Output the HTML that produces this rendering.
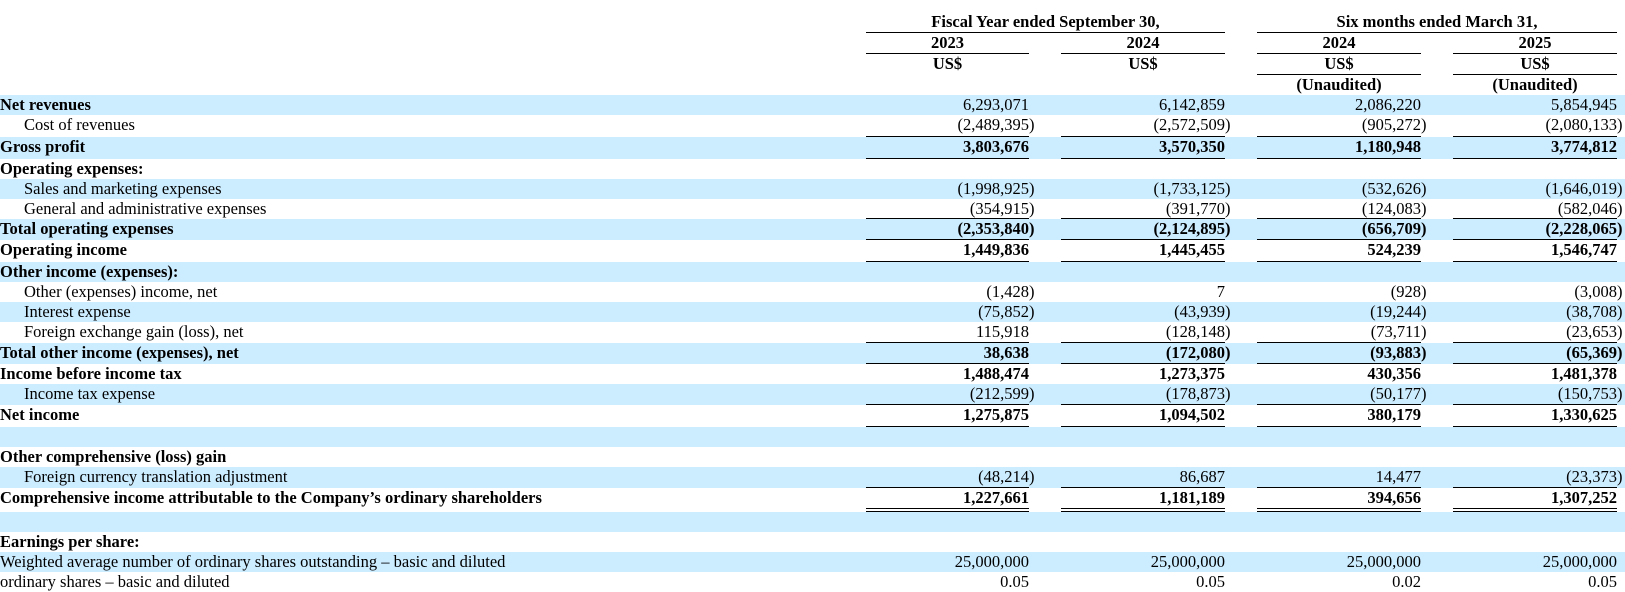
<!DOCTYPE html>
<html><head><meta charset="utf-8"><style>
body{margin:0;width:1625px;height:591px;overflow:hidden;background:#fff;font-family:"Liberation Serif","Times New Roman",serif;font-size:16.5px;color:#000;position:relative}
.r{position:absolute;left:0;width:1625px}
.b{background:#ccecff}
.l{position:absolute;left:0;top:0;line-height:20px;white-space:nowrap}
.i{left:24px}
.bd{font-weight:bold}
.n{position:absolute;top:0;line-height:20px;white-space:nowrap}
.c1{right:596px}.c2{right:400px}.c3{right:204px}.c4{right:8px}
.p{transform:translateX(5.5px)}
.u{position:absolute;bottom:0;height:1px;background:#000}
.u1{left:866px;width:163px}.u2{left:1061px;width:164px}.u3{left:1257px;width:164px}.u4{left:1453px;width:164px}
.d{position:absolute;height:1px;background:#000}
.h{position:absolute;font-weight:bold;text-align:center;line-height:20px;white-space:nowrap}
</style></head><body>
<div class="h" style="left:866px;width:359px;top:12px">Fiscal Year ended September 30,</div>
<div class="h" style="left:1257px;width:360px;top:12px">Six months ended March 31,</div>
<div class="d" style="left:866px;width:359px;top:32px"></div>
<div class="d" style="left:1257px;width:360px;top:32px"></div>
<div class="h" style="left:866px;width:163px;top:33px">2023</div>
<div class="h" style="left:1061px;width:164px;top:33px">2024</div>
<div class="h" style="left:1257px;width:164px;top:33px">2024</div>
<div class="h" style="left:1453px;width:164px;top:33px">2025</div>
<div class="d" style="left:866px;width:163px;top:53px"></div>
<div class="d" style="left:1061px;width:164px;top:53px"></div>
<div class="d" style="left:1257px;width:164px;top:53px"></div>
<div class="d" style="left:1453px;width:164px;top:53px"></div>
<div class="h" style="left:866px;width:163px;top:54px">US$</div>
<div class="h" style="left:1061px;width:164px;top:54px">US$</div>
<div class="h" style="left:1257px;width:164px;top:54px">US$</div>
<div class="h" style="left:1453px;width:164px;top:54px">US$</div>
<div class="d" style="left:1257px;width:164px;top:74px"></div>
<div class="d" style="left:1453px;width:164px;top:74px"></div>
<div class="h" style="left:1257px;width:164px;top:75px">(Unaudited)</div>
<div class="h" style="left:1453px;width:164px;top:75px">(Unaudited)</div>

<div class="r b bd" style="top:95px;height:20px"><span class="l">Net revenues</span><span class="n c1" style="font-weight:normal">6,293,071</span><span class="n c2" style="font-weight:normal">6,142,859</span><span class="n c3" style="font-weight:normal">2,086,220</span><span class="n c4" style="font-weight:normal">5,854,945</span></div>
<div class="r" style="top:115px;height:22px"><span class="l i">Cost of revenues</span><span class="n c1 p">(2,489,395)</span><span class="n c2 p">(2,572,509)</span><span class="n c3 p">(905,272)</span><span class="n c4 p">(2,080,133)</span><div class="u u1"></div><div class="u u2"></div><div class="u u3"></div><div class="u u4"></div></div>
<div class="r b bd" style="top:137px;height:22px"><span class="l">Gross profit</span><span class="n c1">3,803,676</span><span class="n c2">3,570,350</span><span class="n c3">1,180,948</span><span class="n c4">3,774,812</span><div class="u u1"></div><div class="u u2"></div><div class="u u3"></div><div class="u u4"></div></div>
<div class="r bd" style="top:159px;height:20px"><span class="l">Operating expenses:</span></div>
<div class="r b" style="top:179px;height:20px"><span class="l i">Sales and marketing expenses</span><span class="n c1 p">(1,998,925)</span><span class="n c2 p">(1,733,125)</span><span class="n c3 p">(532,626)</span><span class="n c4 p">(1,646,019)</span></div>
<div class="r" style="top:199px;height:20px"><span class="l i">General and administrative expenses</span><span class="n c1 p">(354,915)</span><span class="n c2 p">(391,770)</span><span class="n c3 p">(124,083)</span><span class="n c4 p">(582,046)</span><div class="u u1"></div><div class="u u2"></div><div class="u u3"></div><div class="u u4"></div></div>
<div class="r b bd" style="top:219px;height:21px"><span class="l">Total operating expenses</span><span class="n c1 p">(2,353,840)</span><span class="n c2 p">(2,124,895)</span><span class="n c3 p">(656,709)</span><span class="n c4 p">(2,228,065)</span><div class="u u1"></div><div class="u u2"></div><div class="u u3"></div><div class="u u4"></div></div>
<div class="r bd" style="top:240px;height:22px"><span class="l">Operating income</span><span class="n c1">1,449,836</span><span class="n c2">1,445,455</span><span class="n c3">524,239</span><span class="n c4">1,546,747</span><div class="u u1"></div><div class="u u2"></div><div class="u u3"></div><div class="u u4"></div></div>
<div class="r b bd" style="top:262px;height:20px"><span class="l">Other income (expenses):</span></div>
<div class="r" style="top:282px;height:20px"><span class="l i">Other (expenses) income, net</span><span class="n c1 p">(1,428)</span><span class="n c2">7</span><span class="n c3 p">(928)</span><span class="n c4 p">(3,008)</span></div>
<div class="r b" style="top:302px;height:20px"><span class="l i">Interest expense</span><span class="n c1 p">(75,852)</span><span class="n c2 p">(43,939)</span><span class="n c3 p">(19,244)</span><span class="n c4 p">(38,708)</span></div>
<div class="r" style="top:322px;height:21px"><span class="l i">Foreign exchange gain (loss), net</span><span class="n c1">115,918</span><span class="n c2 p">(128,148)</span><span class="n c3 p">(73,711)</span><span class="n c4 p">(23,653)</span><div class="u u1"></div><div class="u u2"></div><div class="u u3"></div><div class="u u4"></div></div>
<div class="r b bd" style="top:343px;height:21px"><span class="l">Total other income (expenses), net</span><span class="n c1">38,638</span><span class="n c2 p">(172,080)</span><span class="n c3 p">(93,883)</span><span class="n c4 p">(65,369)</span><div class="u u1"></div><div class="u u2"></div><div class="u u3"></div><div class="u u4"></div></div>
<div class="r bd" style="top:364px;height:20px"><span class="l">Income before income tax</span><span class="n c1">1,488,474</span><span class="n c2">1,273,375</span><span class="n c3">430,356</span><span class="n c4">1,481,378</span></div>
<div class="r b" style="top:384px;height:21px"><span class="l i">Income tax expense</span><span class="n c1 p">(212,599)</span><span class="n c2 p">(178,873)</span><span class="n c3 p">(50,177)</span><span class="n c4 p">(150,753)</span><div class="u u1"></div><div class="u u2"></div><div class="u u3"></div><div class="u u4"></div></div>
<div class="r bd" style="top:405px;height:22px"><span class="l">Net income</span><span class="n c1">1,275,875</span><span class="n c2">1,094,502</span><span class="n c3">380,179</span><span class="n c4">1,330,625</span><div class="u u1"></div><div class="u u2"></div><div class="u u3"></div><div class="u u4"></div></div>
<div class="r b" style="top:427px;height:20px"></div>
<div class="r bd" style="top:447px;height:20px"><span class="l">Other comprehensive (loss) gain</span></div>
<div class="r b" style="top:467px;height:21px"><span class="l i">Foreign currency translation adjustment</span><span class="n c1 p">(48,214)</span><span class="n c2">86,687</span><span class="n c3">14,477</span><span class="n c4 p">(23,373)</span><div class="u u1"></div><div class="u u2"></div><div class="u u3"></div><div class="u u4"></div></div>
<div class="r bd" style="top:488px;height:24px"><span class="l">Comprehensive income attributable to the Company’s ordinary shareholders</span><span class="n c1">1,227,661</span><span class="n c2">1,181,189</span><span class="n c3">394,656</span><span class="n c4">1,307,252</span><div class="u u1"></div><div class="u u2"></div><div class="u u3"></div><div class="u u4"></div><div class="u u1" style="bottom:3px"></div><div class="u u2" style="bottom:3px"></div><div class="u u3" style="bottom:3px"></div><div class="u u4" style="bottom:3px"></div></div>
<div class="r b" style="top:512px;height:20px"></div>
<div class="r bd" style="top:532px;height:20px"><span class="l">Earnings per share:</span></div>
<div class="r b" style="top:552px;height:20px"><span class="l">Weighted average number of ordinary shares outstanding – basic and diluted</span><span class="n c1">25,000,000</span><span class="n c2">25,000,000</span><span class="n c3">25,000,000</span><span class="n c4">25,000,000</span></div>
<div class="r" style="top:572px;height:20px"><span class="l">ordinary shares – basic and diluted</span><span class="n c1">0.05</span><span class="n c2">0.05</span><span class="n c3">0.02</span><span class="n c4">0.05</span></div>
</body></html>
